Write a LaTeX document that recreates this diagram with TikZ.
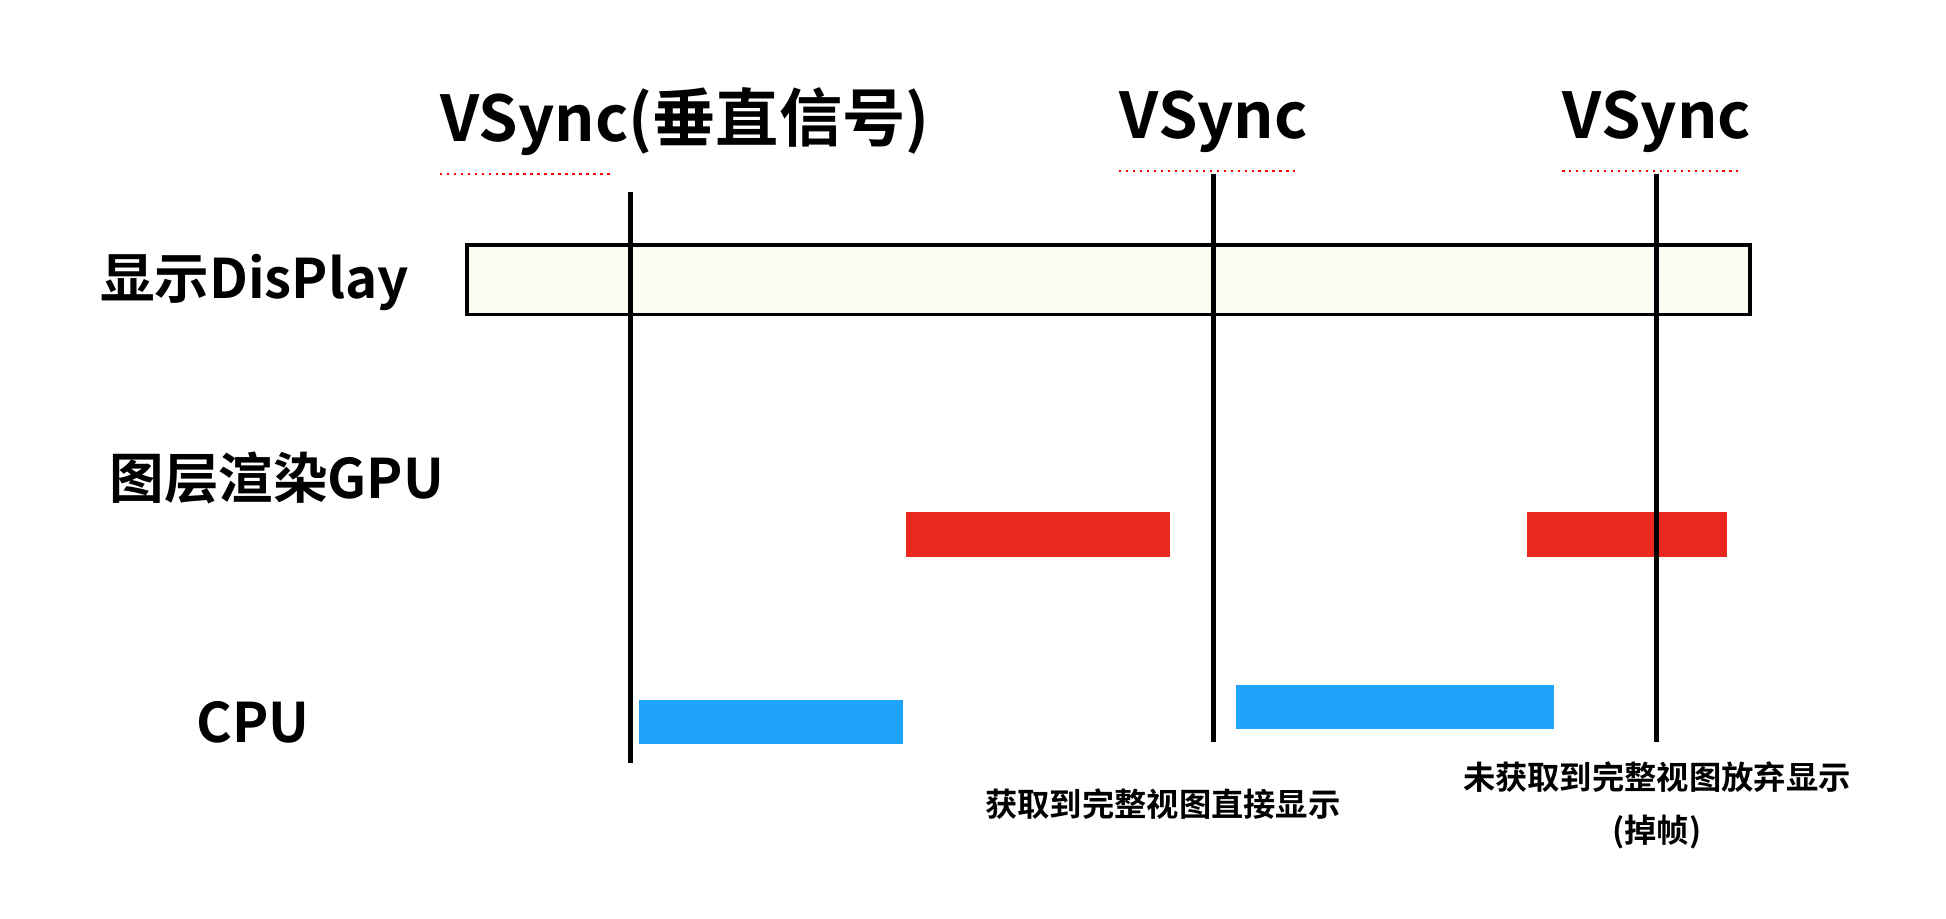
\documentclass[tikz,border=0pt]{standalone}
\usepackage{fontspec}
\setmainfont{Noto Sans CJK SC}[BoldFont={* Bold}]
\begin{document}
\begin{tikzpicture}[x=0.01cm,y=-0.01cm,
  vline/.style={line width=1.1pt,black},
  bar/.style={draw=none,minimum height=0.36cm,inner sep=0pt},
  big/.style={font=\fontsize{14.5}{16}\selectfont\bfseries,inner sep=0pt},
  lab/.style={font=\fontsize{12.5}{14}\selectfont\bfseries,inner sep=0pt},
  small/.style={font=\fontsize{7.4}{10}\selectfont\bfseries,inner sep=0pt,align=center},
  squig/.style={red,densely dotted,line width=0.6pt}]
\useasboundingbox (0,0) rectangle (1568,740);
\definecolor{redbar}{HTML}{EB2820}
\definecolor{bluebar}{HTML}{1EA4FB}
\definecolor{dispfill}{HTML}{FCFCF2}
% display box
\node[draw=black,line width=0.8pt,fill=dispfill,minimum width=10.33cm,minimum height=0.56cm,inner sep=0pt,anchor=north west] (disp) at (375,196) {};
% titles
\node[big] (v1) at (552,98) {VSync(垂直信号)};
\node[big] (v2) at (978,98) {VSync};
\node[big] (v3) at (1335,98) {VSync};
\draw[squig] (v1.south west) ++(0,14) -- ++(140,0);
\draw[squig] (v2.south west) ++(0,14) -- ++(142,0);
\draw[squig] (v3.south west) ++(0,14) -- ++(142,0);
% vertical lines
\coordinate (a1) at (508,155); \coordinate (b1) at (508,615);
\coordinate (a2) at (978,140); \coordinate (b2) at (978,598);
\coordinate (a3) at (1335,140); \coordinate (b3) at (1335,598);
% row labels
\node[lab] (ld) at (205,228) {显示DisPlay};
\node[lab] (lg) at (223,385) {图层渲染GPU};
\node[lab] (lc) at (204,582) {CPU};
% bars
\node[bar,fill=redbar,minimum width=2.13cm,anchor=north west] (g1) at (729,412) {};
\node[bar,fill=redbar,minimum width=1.61cm,anchor=north west] (g2) at (1230,412) {};
\node[bar,fill=bluebar,minimum width=2.13cm,anchor=north west] (c1) at (514,563) {};
\node[bar,fill=bluebar,minimum width=2.56cm,anchor=north west] (c2) at (995,551) {};
\draw[vline] (a1) -- (b1);
\draw[vline] (a2) -- (b2);
\draw[vline] (a3) -- (b3);
% notes
\node[small] (n1) at (937,648) {获取到完整视图直接显示};
\node[small] (n2) at (1335,649) {未获取到完整视图放弃显示\\[2pt](掉帧)};
\end{tikzpicture}
\end{document}
